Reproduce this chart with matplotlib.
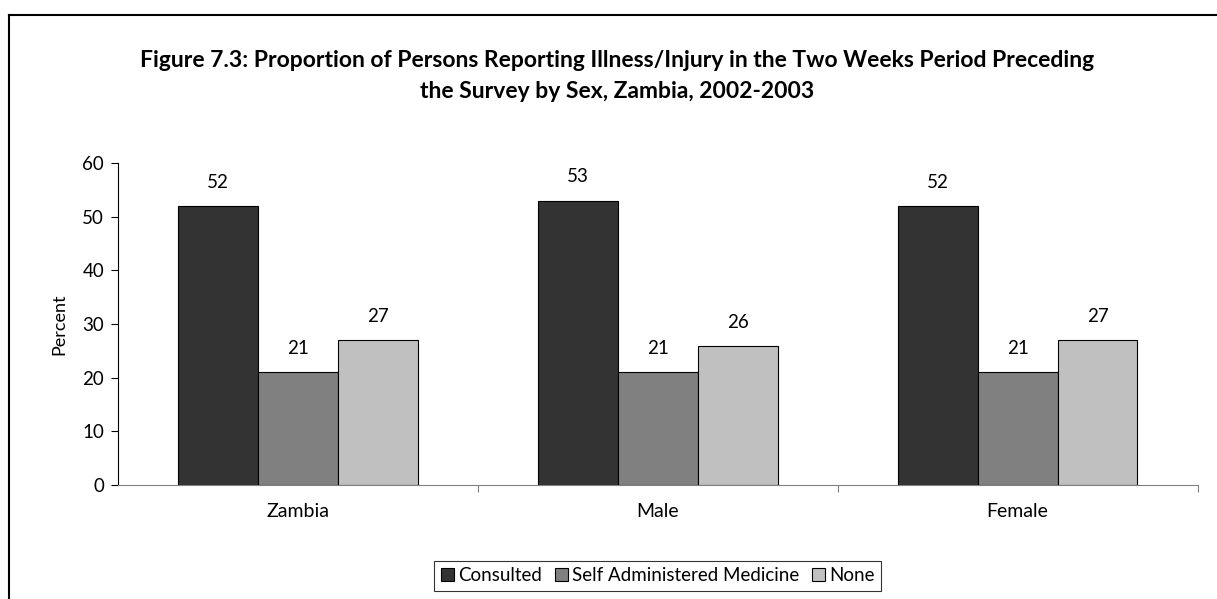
import numpy as np
import matplotlib.pyplot as plt
from matplotlib.lines import Line2D

categories = ["Zambia", "Male", "Female"]
series = ["Consulted", "Self Administered Medicine", "None"]
consulted = [52, 53, 52]
self_med = [21, 21, 21]
none = [27, 26, 27]
colors = ["#333333", "#808080", "#c0c0c0"]
title_lines = ["Figure 7.3: Proportion of Persons Reporting Illness/Injury in the Two Weeks Period Preceding",
               "the Survey by Sex, Zambia, 2002-2003"]

plt.rcParams['font.family'] = ['Lato', 'DejaVu Sans']

fig = plt.figure(figsize=(12.17, 5.99), dpi=100)
ax = fig.add_axes([0.097, 0.19, 0.887, 0.538])

x = np.arange(len(categories))
w = 0.222
for i, (vals, name) in enumerate(zip([consulted, self_med, none], series)):
    pos = x + (i - 1) * w
    bars = ax.bar(pos, vals, w, color=colors[i], edgecolor="black", linewidth=0.8, label=name)
    for b, v in zip(bars, vals):
        ax.text(b.get_x() + b.get_width() / 2, v + 2.8, str(v), ha="center", va="bottom", fontsize=13.5)

ax.set_xlim(-0.5, 2.5)
ax.set_ylim(0, 60)
ax.set_yticks(range(0, 61, 10))
ax.set_xticks(x)
ax.set_xticklabels(categories, fontsize=14)
ax.tick_params(axis="x", length=0, pad=13)
ax.tick_params(axis="y", labelsize=13.5, length=5, width=0.8, pad=5)
# group separator ticks on x axis
ax.set_xticks([0.5, 1.5, 2.5], minor=True)
ax.tick_params(axis="x", which="minor", length=5, width=0.8, color="#808080")
ax.spines["top"].set_visible(False)
ax.spines["right"].set_visible(False)
ax.spines["bottom"].set_color("#808080")
ax.spines["left"].set_linewidth(0.8)
ax.set_ylabel("Percent", fontsize=13, labelpad=11)

# title, two centred lines
fig.text(0.507, 1 - 67 / 599, title_lines[0], ha="center", va="baseline", fontsize=16.5, fontweight="bold")
fig.text(0.507, 1 - 98 / 599, title_lines[1], ha="center", va="baseline", fontsize=16.5, fontweight="bold")

leg = ax.legend(loc="upper center", bbox_to_anchor=(0.5, -0.205), ncol=3, frameon=True,
                fancybox=False, edgecolor="black", fontsize=13.5, handlelength=0.7,
                handleheight=0.7, handletextpad=0.2, columnspacing=0.7, borderpad=0.35)
leg.get_frame().set_linewidth(0.8)

# outer frame (left and top edges)
fig.add_artist(Line2D([0.0075, 0.0075], [0, 0.975], color="black", linewidth=1.5, transform=fig.transFigure))
fig.add_artist(Line2D([0.0075, 1.0], [0.975, 0.975], color="black", linewidth=1.5, transform=fig.transFigure))

fig.savefig("out.png", dpi=100)
